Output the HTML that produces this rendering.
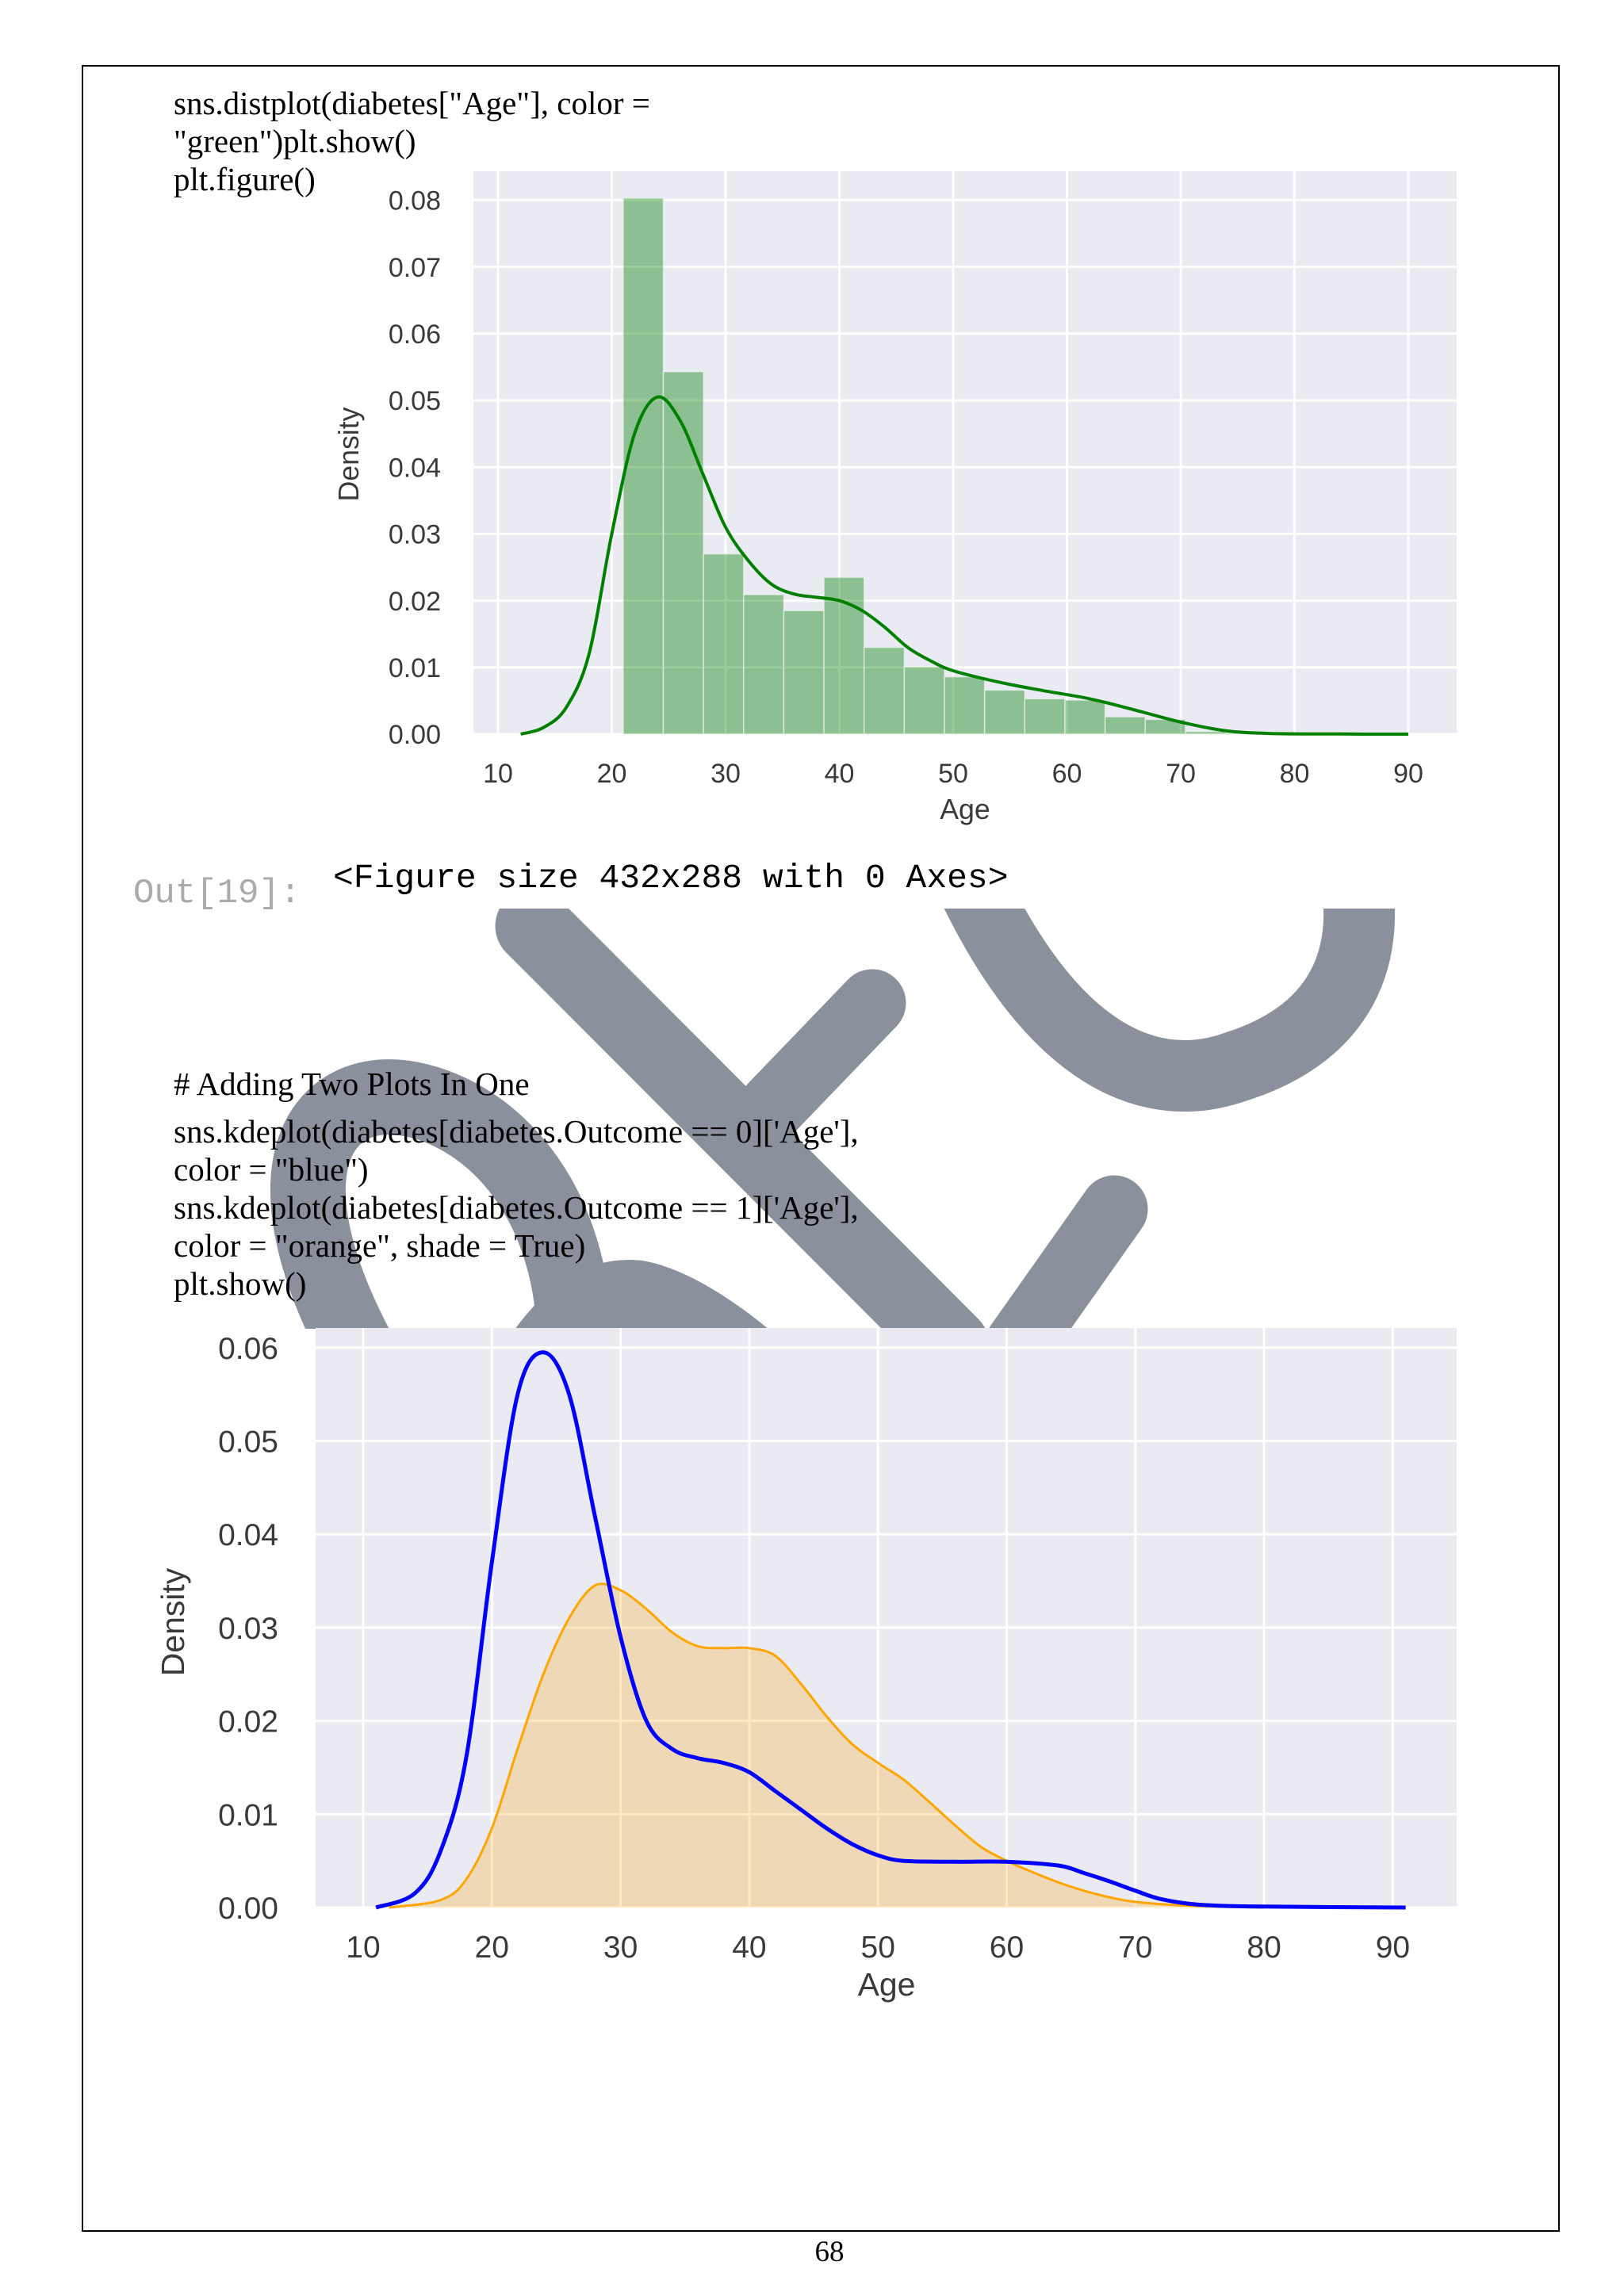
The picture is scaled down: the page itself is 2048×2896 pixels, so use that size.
<!DOCTYPE html>
<html><head><meta charset="utf-8"><style>
html,body{margin:0;padding:0;background:#fff;}
body{width:2048px;height:2896px;position:relative;overflow:hidden;}
svg{position:absolute;left:0;top:0;}
</style></head><body>
<svg id="page" width="2048" height="2896" viewBox="0 0 2048 2896" xmlns="http://www.w3.org/2000/svg">
  <rect x="104" y="83" width="1862" height="2731" fill="none" stroke="#000" stroke-width="2"/>
  <defs><clipPath id="wmclip"><rect x="0" y="1146" width="2048" height="530"/></clipPath></defs>
  <g clip-path="url(#wmclip)" fill="none" stroke="#8a919d">
    <line x1="672" y1="1168" x2="1200" y2="1697" stroke-width="95" stroke-linecap="round"/>
    <line x1="1100" y1="1265" x2="975" y2="1395" stroke-width="85" stroke-linecap="round"/>
    <line x1="1405" y1="1525" x2="1285" y2="1695" stroke-width="85" stroke-linecap="round"/>
    <path d="M1228,1120 C1330,1330 1450,1385 1560,1345 C1700,1300 1722,1200 1712,1120" stroke-width="90"/>
    <path d="M455,1710 C330,1480 400,1370 510,1385 C610,1400 720,1500 725,1690" stroke-width="95"/>
    <path d="M640,1690 C700,1600 760,1585 810,1590 C870,1600 940,1650 985,1690 Z" fill="#8a919d" stroke="none"/>
  </g>
  <g font-family="'Liberation Serif', serif" font-size="41" fill="#000">
    <text x="219" y="144">sns.distplot(diabetes["Age"], color =</text>
    <text x="219" y="192">"green")plt.show()</text>
    <text x="219" y="240">plt.figure()</text>
  </g>
  <text x="168" y="1138" font-family="'Liberation Mono', monospace" font-size="44" fill="#aaa">Out[19]:</text>
  <text x="420" y="1119" font-family="'Liberation Mono', monospace" font-size="43" fill="#000">&lt;Figure size 432x288 with 0 Axes&gt;</text>
  <g font-family="'Liberation Serif', serif" font-size="41" fill="#000">
    <text x="219" y="1381"># Adding Two Plots In One</text>
    <text x="219" y="1441">sns.kdeplot(diabetes[diabetes.Outcome == 0]['Age'],</text>
    <text x="219" y="1489">color = "blue")</text>
    <text x="219" y="1537">sns.kdeplot(diabetes[diabetes.Outcome == 1]['Age'],</text>
    <text x="219" y="1585">color = "orange", shade = True)</text>
    <text x="219" y="1633">plt.show()</text>
  </g>
  <g id="chart1"></g>
  <g id="chart2"></g>
  <text x="1046" y="2852" font-family="'Liberation Serif', serif" font-size="37" text-anchor="middle">68</text>
</svg>
<script>
// ---- Chart 1 data ----
const xTicks1 = [10,20,30,40,50,60,70,80,90];
const yTicks1 = [0,0.01,0.02,0.03,0.04,0.05,0.06,0.07,0.08];
const binStart = 21;
const binWidth = 60/17;
const histValues = [0.0803,0.0543,0.0270,0.0209,0.0185,0.0235,0.0130,0.0101,0.0086,0.0066,0.0053,0.0051,0.0026,0.0022,0.0004,0.0002,0.0002];
const kdeAges1 = [12,14,16,18,20,22,24,26,28,30,32,34,36,38,40,42,44,46,48,50,54,58,62,66,70,74,78,84,90];
const kdeDens1 = [0,0.001,0.004,0.012,0.030,0.045,0.0505,0.047,0.039,0.031,0.026,0.0225,0.021,0.0205,0.020,0.0185,0.016,0.013,0.011,0.0095,0.0078,0.0065,0.0053,0.0036,0.0018,0.0005,0.0001,0.00002,0];
// ---- Chart 2 data ----
const xTicks2 = [10,20,30,40,50,60,70,80,90];
const yTicks2 = [0,0.01,0.02,0.03,0.04,0.05,0.06];
const blueAges = [11,14,16,18,20,22,24,26,28,30,32,34,36,38,40,42,44,46,48,50,52,56,60,64,66,68,70,72,75,80,91];
const blueDens = [0,0.0015,0.006,0.016,0.037,0.055,0.0595,0.055,0.042,0.029,0.020,0.017,0.016,0.0155,0.0145,0.0125,0.0105,0.0085,0.0068,0.0056,0.005,0.0049,0.0049,0.0045,0.0037,0.0028,0.0018,0.0009,0.0003,0.0001,0];
const orangeAges = [12,16,18,20,22,24,26,28,30,32,34,36,38,40,42,44,46,48,50,52,54,56,58,60,62,64,66,68,70,74,80];
const orangeDens = [0,0.0008,0.003,0.0085,0.017,0.025,0.031,0.0345,0.034,0.032,0.0295,0.028,0.0278,0.0278,0.027,0.024,0.0205,0.0175,0.0155,0.0137,0.0113,0.0088,0.0065,0.005,0.0038,0.0027,0.0018,0.0011,0.0006,0.0002,0];

const NS='http://www.w3.org/2000/svg';
function mk(tag, attrs, parent){const e=document.createElementNS(NS,tag);for(const k in attrs)e.setAttribute(k,attrs[k]);parent.appendChild(e);return e;}
function smooth(pts){let d='M'+pts[0][0].toFixed(1)+','+pts[0][1].toFixed(1);
  for(let i=0;i<pts.length-1;i++){const p0=pts[Math.max(0,i-1)],p1=pts[i],p2=pts[i+1],p3=pts[Math.min(pts.length-1,i+2)];
    const c1=[p1[0]+(p2[0]-p0[0])/6,p1[1]+(p2[1]-p0[1])/6],c2=[p2[0]-(p3[0]-p1[0])/6,p2[1]-(p3[1]-p1[1])/6];
    d+=' C'+c1[0].toFixed(1)+','+c1[1].toFixed(1)+' '+c2[0].toFixed(1)+','+c2[1].toFixed(1)+' '+p2[0].toFixed(1)+','+p2[1].toFixed(1);}
  return d;}

function axes(g, cfg){
  const bg=mk('rect',{x:cfg.left,y:cfg.top,width:cfg.right-cfg.left,height:cfg.bottom-cfg.top,fill:'#eaeaf2'},g);
  
  
  cfg.yt.forEach(v=>{const y=cfg.Y(v);
    const l=mk('line',{x1:cfg.left,x2:cfg.right,y1:y,y2:y,stroke:'#fff','stroke-width':3},g);
    
    
    const t=mk('text',{x:cfg.ylx,y:y+cfg.fs*0.36,'text-anchor':'end','font-size':cfg.fs,fill:'#3a3a3a'},g);
    t.textContent=v.toFixed(2);
    
    });
  cfg.xt.forEach(v=>{const x=cfg.X(v);
    const l=mk('line',{x1:x,x2:x,y1:cfg.top,y2:cfg.bottom,stroke:'#fff','stroke-width':3},g);
    
    
    const t=mk('text',{x:x,y:cfg.xly,'text-anchor':'middle','font-size':cfg.fs,fill:'#3a3a3a'},g);
    t.textContent=v;
    
    });
  const xa=mk('text',{x:cfg.axX,y:cfg.axY,'text-anchor':'middle','font-size':cfg.fs*1.05,fill:'#3a3a3a'},g);
  xa.textContent='Age';
  
  
  const ya=mk('text',{x:cfg.dX,y:cfg.dY,'text-anchor':'middle','font-size':cfg.fs*1.05,fill:'#3a3a3a',transform:'rotate(-90 '+cfg.dX+' '+cfg.dY+')'},g);
  ya.textContent='Density';
  
  
}

// Chart 1
(function(){
  const g=document.getElementById('chart1');
  g.setAttribute('font-family',"'Liberation Sans', sans-serif");
  const X=v=>628+(v-10)*14.35, Y=v=>926-v*8420;
  axes(g,{left:597,right:1837,top:216,bottom:926,X,Y,xt:xTicks1,yt:yTicks1,ylx:556,xly:987,fs:34,axX:1217,axY:1033,dX:452,dY:573});
  histValues.forEach((v,i)=>{const x0=X(binStart+i*binWidth),x1=X(binStart+(i+1)*binWidth);
    const r=mk('rect',{x:x0,y:Y(v),width:x1-x0,height:Y(0)-Y(v),fill:'#008000','fill-opacity':0.4,stroke:'#eef3ee','stroke-width':1.5,'stroke-opacity':0.7},g);
    
    });
  const p=mk('path',{d:smooth(kdeAges1.map((a,i)=>[X(a),Y(kdeDens1[i])])),fill:'none',stroke:'#008000','stroke-width':4},g);
  
  
})();

// Chart 2
(function(){
  const g=document.getElementById('chart2');
  g.setAttribute('font-family',"'Liberation Sans', sans-serif");
  const X=v=>458+(v-10)*16.23, Y=v=>2406-v*11770;
  axes(g,{left:398,right:1837,top:1675,bottom:2406,X,Y,xt:xTicks2,yt:yTicks2,ylx:351,xly:2469,fs:39,axX:1118,axY:2517,dX:232,dY:2046});
  const op=orangeAges.map((a,i)=>[X(a),Y(orangeDens[i])]);
  const od=smooth(op);
  const f=mk('path',{d:od+' L'+op[op.length-1][0]+','+Y(0)+' L'+op[0][0]+','+Y(0)+' Z',fill:'#ffa500','fill-opacity':0.25,stroke:'none'},g);
  
  
  const o=mk('path',{d:od,fill:'none',stroke:'#ffa500','stroke-width':3},g);
  
  
  const b=mk('path',{d:smooth(blueAges.map((a,i)=>[X(a),Y(blueDens[i])])),fill:'none',stroke:'#0000ff','stroke-width':5},g);
  
  
})();
</script>
</body></html>
